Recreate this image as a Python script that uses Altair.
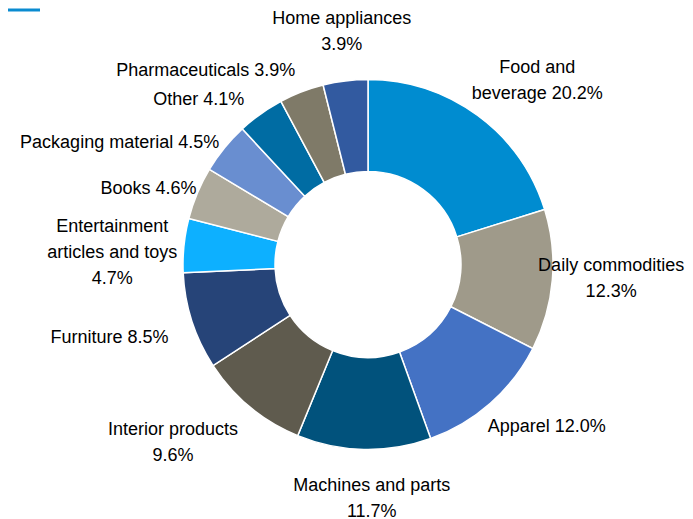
import math
import altair as alt
import pandas as pd

categories = [
    "Food and beverage", "Daily commodities", "Apparel", "Machines and parts",
    "Interior products", "Furniture", "Entertainment articles and toys", "Books",
    "Packaging material", "Other", "Pharmaceuticals", "Home appliances",
]
values = [20.2, 12.3, 12.0, 11.7, 9.6, 8.5, 4.7, 4.6, 4.5, 4.1, 3.9, 3.9]
label_texts = [
    "Food and\nbeverage 20.2%", "Daily commodities\n12.3%", "Apparel 12.0%",
    "Machines and parts\n11.7%", "Interior products\n9.6%", "Furniture 8.5%",
    "Entertainment\narticles and toys\n4.7%", "Books 4.6%",
    "Packaging material 4.5%", "Other 4.1%", "Pharmaceuticals 3.9%",
    "Home appliances\n3.9%",
]
colors = [
    "#008CD0", "#9F9A8A", "#4472C4", "#01527C", "#5F5B4E", "#264478",
    "#0DB0FF", "#AEAA9C", "#698ED0", "#006CA3", "#7F7A68", "#325AA0",
]

# label nudges (styling): dx, dy from the mid-angle anchor
label_nudge = [
    (27, -3), (4, -19), (20, -18), (9, -18), (-42, -19), (-30, 0),
    (-17, -13), (2, 17), (-62, 30), (-30, 31), (-76, 30), (3, -7),
]

df = pd.DataFrame({
    "cat": categories,
    "value": values,
    "label": label_texts,
    "idx": list(range(len(categories))),
})
total = sum(values)

color_scale = alt.Scale(domain=categories, range=colors)

base = alt.Chart(df)

arcs = base.mark_arc(radius=185, radius2=93, stroke="white", strokeWidth=1.5).encode(
    theta=alt.Theta("value:Q", stack=True, scale=alt.Scale(domain=[0, total])),
    order=alt.Order("idx:Q"),
    color=alt.Color("cat:N", scale=color_scale, legend=None),
)

layers = [arcs]
for cat, (dx, dy) in zip(categories, label_nudge):
    t = base.transform_window(
        cum="sum(value)", sort=[alt.SortField("idx")], frame=[None, 0]
    ).transform_calculate(
        mid="datum.cum - datum.value / 2"
    ).transform_filter(
        alt.datum.cat == cat
    ).mark_text(
        radius=240, dx=dx, dy=dy, align="center", baseline="middle",
        lineBreak="\n", lineHeight=26, fontSize=18, font="Liberation Sans",
        color="#000000",
    ).encode(
        theta=alt.Theta("mid:Q", scale=alt.Scale(domain=[0, total])),
        text="label:N",
    )
    layers.append(t)

deco = alt.Chart(pd.DataFrame({"k": [0]})).mark_rule(
    color="#0A8BD0", strokeWidth=3
).encode(x=alt.value(-43), x2=alt.value(-11), y=alt.value(-8))
layers.append(deco)

chart = alt.layer(*layers).resolve_scale(theta="independent").properties(
    width=634,
    height=493,
    padding={"left": 43, "top": 10, "right": 0, "bottom": 8},
    autosize=alt.AutoSizeParams(type="none"),
).configure_view(stroke=None)

chart.save("out.html", embed_options={"renderer": "svg", "actions": False})
